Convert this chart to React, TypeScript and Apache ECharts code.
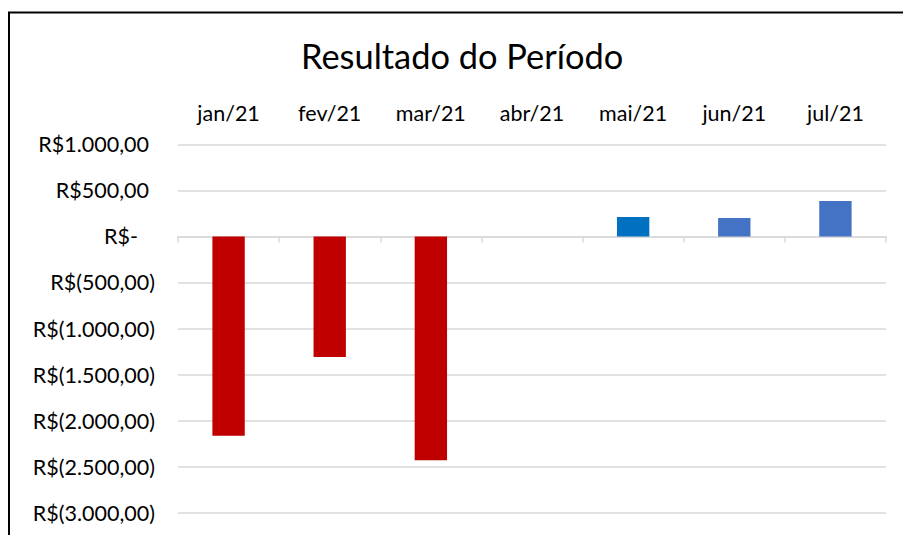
import React, { useEffect, useRef } from "react";
import * as echarts from "echarts";

const categories = ["jan/21", "fev/21", "mar/21", "abr/21", "mai/21", "jun/21", "jul/21"];
const resultValues = [-2165, -1310, -2430, 0, 211, 200, 384];
const barColors = ["#C00000", "#C00000", "#C00000", "#C00000", "#0070C0", "#4472C4", "#4472C4"];
const yTicks = [1000, 500, 0, -500, -1000, -1500, -2000, -2500, -3000];

const FONT = "Lato";

function fmt(v: number): string {
  if (v === 0) return "{z|R$-}";
  const abs = Math.abs(v);
  const s = abs.toLocaleString("de-DE", { minimumFractionDigits: 2, maximumFractionDigits: 2 });
  if (v < 0) return "{n|R$(" + s + ")}";
  return "{p|R$" + s + "}";
}

export default function App() {
  const ref = useRef<HTMLDivElement>(null);
  useEffect(() => {
    if (!ref.current) return;
    const chart = echarts.init(ref.current, undefined, { renderer: "svg" });
    const labelStyle = { fontFamily: FONT, fontSize: 21.5, color: "#000" };
    chart.setOption({
      animation: false,
      title: {
        text: "Resultado do Período",
        left: 301,
        top: 38.5,
        padding: 0,
        textStyle: { fontFamily: FONT, fontSize: 34.4, fontWeight: "normal", color: "#000" },
      },
      graphic: [
        {
          type: "rect",
          shape: { x: 9, y: 12.5, width: 1000, height: 600 },
          style: { fill: "none", stroke: "#000", lineWidth: 2 },
          silent: true,
        },
      ],
      grid: { left: 178, right: 17, top: 144.3, bottom: 22.3 },
      xAxis: [
        {
          type: "category",
          data: categories,
          position: "top",
          axisLine: { show: false, onZero: false },
          axisTick: { show: false },
          axisLabel: { ...labelStyle, margin: 20 },
        },
        {
          type: "category",
          data: categories,
          position: "bottom",
          axisLine: { show: true, onZero: true, lineStyle: { color: "#d9d9d9", width: 1.5 } },
          axisTick: { show: true, length: 6, lineStyle: { color: "#d9d9d9", width: 1.5 } },
          axisLabel: { show: false },
        },
      ],
      yAxis: {
        type: "value",
        min: yTicks[yTicks.length - 1],
        max: yTicks[0],
        interval: 500,
        axisLine: { show: false },
        axisTick: { show: false },
        splitLine: { lineStyle: { color: "#d9d9d9", width: 1.5 } },
        axisLabel: {
          margin: 23,
          formatter: (v: number) => fmt(v),
          rich: {
            p: { ...labelStyle, padding: [0, 6, 0, 0] },
            z: { ...labelStyle, padding: [0, 17, 0, 0] },
            n: { ...labelStyle },
          },
        },
      },
      series: [
        {
          type: "bar",
          xAxisIndex: 0,
          data: resultValues.map((v, i) => ({ value: v, itemStyle: { color: barColors[i] } })),
          barWidth: "32%",
        },
      ],
    });
    return () => chart.dispose();
  }, []);
  return (
    <div
      ref={ref}
      style={{ position: "fixed", left: 0, top: 0, width: 903, height: 535, background: "#fff" }}
    />
  );
}
